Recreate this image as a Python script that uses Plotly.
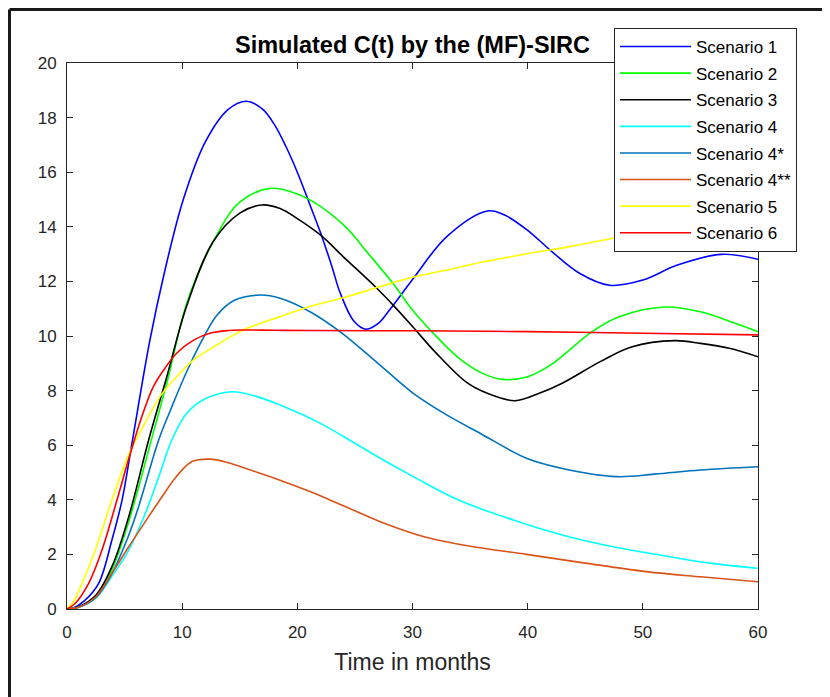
import plotly.graph_objects as go

# ---- data ----
s1_t = [0, 0.5, 1.5, 2.75, 3.9, 4.78, 5.64, 7.2, 8.5, 10.1, 12, 14, 15.6, 17, 18, 19, 20, 21.1, 22, 23, 23.7, 24.9, 25.96, 27, 28, 30.07, 33, 36.5, 38, 40.2, 42, 44.5, 47.1, 50, 53, 56.8, 60]
s1_v = [0, 0.03, 0.3, 0.94, 2.53, 3.99, 6.07, 9.85, 12.4, 15.0, 17.1, 18.3, 18.6, 18.3, 17.75, 16.95, 16.0, 14.8, 13.8, 12.55, 11.6, 10.55, 10.25, 10.45, 10.95, 12.11, 13.65, 14.58, 14.43, 13.8, 13.13, 12.3, 11.86, 12.05, 12.6, 12.99, 12.81]

s2_t = [0, 1, 2.5, 3.9, 5.36, 7.2, 8.8, 10.4, 12.7, 15, 17.7, 20, 22, 24.3, 26, 28.3, 30, 31.8, 34, 36, 37.8, 40, 42, 45.6, 48, 51.9, 55, 58, 60]
s2_v = [0, 0.07, 0.45, 1.45, 3.2, 6.0, 8.5, 11.2, 13.46, 14.9, 15.41, 15.2, 14.75, 13.95, 13.1, 11.93, 10.95, 10.1, 9.2, 8.65, 8.41, 8.51, 8.94, 10.16, 10.71, 11.06, 10.89, 10.47, 10.16]

s3_t = [0, 1, 2.5, 3.9, 5.36, 7.09, 8.66, 10.39, 12.7, 15, 16.9, 18.5, 20, 22, 24, 26.9, 28.5, 30.1, 32, 34.7, 36.5, 38.9, 41, 43, 46.3, 49, 52.8, 55, 57.5, 60]
s3_v = [0, 0.08, 0.5, 1.55, 3.38, 6.19, 8.5, 11.1, 13.46, 14.5, 14.8, 14.67, 14.3, 13.7, 12.9, 11.75, 11.05, 10.3, 9.4, 8.3, 7.9, 7.63, 7.9, 8.27, 9.06, 9.6, 9.83, 9.73, 9.55, 9.24]

s4_t = [0, 1, 2.5, 3.9, 5.36, 6.8, 8.1, 9.1, 10.4, 12, 14.4, 16.5, 18.5, 22, 25, 27.2, 30.07, 34, 38.75, 43, 47.4, 52, 56, 60]
s4_v = [0, 0.06, 0.4, 1.2, 2.16, 3.5, 5.0, 6.19, 7.17, 7.7, 7.96, 7.78, 7.47, 6.8, 6.07, 5.52, 4.85, 3.99, 3.26, 2.71, 2.28, 1.94, 1.67, 1.49]

s4a_t = [0, 1, 2.5, 3.9, 5.36, 6.22, 7.96, 9.0, 10.4, 11.8, 13.0, 14.5, 16.8, 18.5, 21.1, 23.7, 27, 30.07, 33, 35.9, 39.9, 43, 47.7, 51, 55, 60]
s4a_v = [0, 0.06, 0.42, 1.3, 2.7, 3.75, 6.19, 7.3, 8.7, 9.9, 10.75, 11.3, 11.5, 11.38, 10.89, 10.16, 9.0, 7.9, 7.1, 6.43, 5.52, 5.15, 4.85, 4.94, 5.09, 5.21]

s4b_t = [0, 1, 2.5, 3.9, 5.36, 6.8, 8.25, 9.5, 10.85, 12.4, 14, 16, 18.5, 21.1, 24, 27.2, 31, 35, 39.9, 45, 50.3, 55, 60]
s4b_v = [0, 0.06, 0.45, 1.31, 2.28, 3.2, 4.11, 4.85, 5.4, 5.49, 5.36, 5.08, 4.72, 4.3, 3.78, 3.2, 2.65, 2.3, 2.0, 1.68, 1.37, 1.18, 1.0]

s5_t = [0, 0.6, 1.3, 2.46, 3.9, 5.3, 6.5, 8.07, 9.5, 10.97, 13, 15.3, 18.5, 21.1, 24, 27.2, 30, 33, 36, 40.2, 44, 47.4, 51, 55, 60]
s5_v = [0, 0.3, 0.94, 2.16, 3.99, 5.6, 6.6, 7.78, 8.5, 9.12, 9.67, 10.22, 10.71, 11.08, 11.4, 11.81, 12.15, 12.42, 12.7, 13.03, 13.3, 13.58, 13.85, 14.1, 14.4]

s6_t = [0, 0.7, 1.88, 3.04, 4.34, 5.36, 6.5, 7.49, 8.5, 9.52, 11, 12.4, 14, 15.3, 18, 21.1, 30, 40, 50, 60]
s6_v = [0, 0.2, 0.94, 2.16, 3.99, 5.5, 7.05, 8.14, 8.82, 9.37, 9.85, 10.1, 10.2, 10.22, 10.21, 10.2, 10.19, 10.16, 10.1, 10.04]

names = ["Scenario 1", "Scenario 2", "Scenario 3", "Scenario 4",
         "Scenario 4*", "Scenario 4**", "Scenario 5", "Scenario 6"]
colors = ["#0000FF", "#00FF00", "#000000", "#00FFFF",
          "#0072BD", "#D95319", "#FFFF00", "#FF0000"]
series = [(s1_t, s1_v), (s2_t, s2_v), (s3_t, s3_v), (s4_t, s4_v),
          (s4a_t, s4a_v), (s4b_t, s4b_v), (s5_t, s5_v), (s6_t, s6_v)]

x_ticks = [0, 10, 20, 30, 40, 50, 60]
y_ticks = [0, 2, 4, 6, 8, 10, 12, 14, 16, 18, 20]

FONT = "Liberation Sans, Arial, Helvetica, sans-serif"
AX = "#262626"

fig = go.Figure()
for (t, v), n, c in zip(series, names, colors):
    fig.add_trace(go.Scatter(x=t, y=v, name=n, mode="lines", legendgroup=n,
                             line=dict(color=c, width=1.6, shape="spline", smoothing=1.0)))

# the page body has an 8px margin, so figure coords = page coords - 8
OFF = 8
W, H = 830 - OFF, 697 - OFF
L, R, T, B = 67 - OFF, 758 - OFF, 63 - OFF, 609 - OFF

def px2paper_x(px):
    return (px - OFF - L) / (R - L)

def px2paper_y(py):
    return (B - (py - OFF)) / (B - T)

fig.update_layout(
    width=W, height=H,
    margin=dict(l=L, r=W - R, t=T, b=H - B, pad=0),
    paper_bgcolor="white", plot_bgcolor="white",
    font=dict(family=FONT, size=17, color=AX),
    title=dict(text="<b>Simulated C(t) by the (MF)-SIRC</b>",
               x=0.5, xref="paper", xanchor="center",
               y=1 - (45 - OFF) / H, yref="container", yanchor="middle",
               font=dict(family=FONT, size=23.5, color="#000000")),
    showlegend=True,
    legend=dict(x=px2paper_x(614), y=px2paper_y(28), xanchor="left", yanchor="top",
                bgcolor="white", bordercolor=AX, borderwidth=1,
                font=dict(family=FONT, size=17, color="#000000"),
                itemwidth=71, tracegroupgap=1.5),
    xaxis=dict(range=[0, 60], tickvals=x_ticks, ticks="inside", ticklen=6, tickwidth=1,
               tickcolor=AX, showline=True, linecolor=AX, linewidth=1, mirror="ticks",
               showgrid=False, zeroline=False, tickfont=dict(size=17, color=AX),
               ticklabelstandoff=8,
               title=dict(text="Time in months", font=dict(size=23, color=AX), standoff=12)),
    yaxis=dict(range=[0, 20], tickvals=y_ticks, ticks="inside", ticklen=6, tickwidth=1,
               tickcolor=AX, showline=True, linecolor=AX, linewidth=1, mirror="ticks",
               showgrid=False, zeroline=False, tickfont=dict(size=17, color=AX),
               ticklabelstandoff=6),
)

# figure frame (left and top edges visible in the reference)
fig.add_shape(type="line", xref="paper", yref="paper",
              x0=px2paper_x(9.5), x1=px2paper_x(840), y0=px2paper_y(9.5), y1=px2paper_y(9.5),
              line=dict(color="#1a1a1a", width=3), layer="above")
fig.add_shape(type="line", xref="paper", yref="paper",
              x0=px2paper_x(9.5), x1=px2paper_x(9.5), y0=px2paper_y(9.5), y1=px2paper_y(710),
              line=dict(color="#1a1a1a", width=3), layer="above")

fig.write_html("out.html")
